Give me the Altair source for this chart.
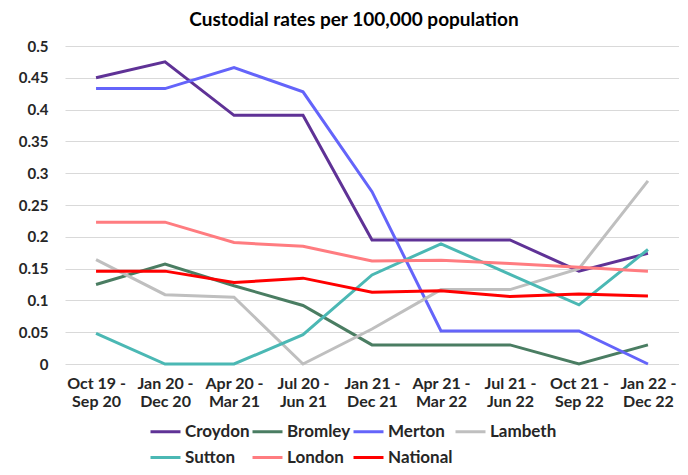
import altair as alt
import pandas as pd

periods = ["Oct 19 - Sep 20", "Jan 20 - Dec 20", "Apr 20 - Mar 21", "Jul 20 - Jun 21",
           "Jan 21 - Dec 21", "Apr 21 - Mar 22", "Jul 21 - Jun 22", "Oct 21 - Sep 22",
           "Jan 22 - Dec 22"]

croydon = [0.450, 0.475, 0.391, 0.391, 0.195, 0.195, 0.195, 0.146, 0.174]
bromley = [0.125, 0.157, 0.123, 0.092, 0.030, 0.030, 0.030, 0.000, 0.030]
merton = [0.433, 0.433, 0.466, 0.428, 0.271, 0.052, 0.052, 0.052, 0.000]
lambeth = [0.164, 0.109, 0.105, 0.000, 0.055, 0.117, 0.117, 0.150, 0.288]
sutton = [0.048, 0.000, 0.000, 0.046, 0.140, 0.189, 0.141, 0.093, 0.180]
london = [0.223, 0.223, 0.191, 0.185, 0.162, 0.163, 0.158, 0.152, 0.146]
national = [0.146, 0.146, 0.128, 0.135, 0.113, 0.115, 0.106, 0.110, 0.107]

series_names = ["Croydon", "Bromley", "Merton", "Lambeth", "Sutton", "London", "National"]
series_values = [croydon, bromley, merton, lambeth, sutton, london, national]
series_colors = ["#5F3296", "#4A7D62", "#6464FA", "#BFBFBF", "#4BB8B4", "#FF7C80", "#FF0000"]

rows = []
for name, vals in zip(series_names, series_values):
    for p, v in zip(periods, vals):
        rows.append({"period": p, "series": name, "value": v})
df = pd.DataFrame(rows)

FONT = "Lato"
TXT = "#262626"

chart = alt.Chart(df).mark_line(strokeWidth=3).encode(
    x=alt.X("period:N", sort=periods,
            scale=alt.Scale(type="point", padding=0.45),
            axis=alt.Axis(title=None, domain=False, ticks=False, labelAngle=0,
                          labelExpr="[split(datum.label, ' - ')[0] + ' -', split(datum.label, ' - ')[1]]",
                          labelLineHeight=18, labelPadding=11, labelFontSize=16,
                          labelFontWeight="bold", labelColor=TXT, labelFont=FONT)),
    y=alt.Y("value:Q", scale=alt.Scale(domain=[0, 0.5], nice=False),
            axis=alt.Axis(title=None, values=[i * 0.05 for i in range(11)], format="~g",
                          domain=False, ticks=False, labelPadding=17, labelFontSize=15,
                          labelFontWeight="bold", labelColor=TXT, labelFont=FONT,
                          grid=True, gridColor="#D9D9D9", gridWidth=1)),
    color=alt.Color("series:N", sort=series_names,
                    scale=alt.Scale(domain=series_names, range=series_colors),
                    legend=alt.Legend(title=None, orient="none", legendX=84, legendY=369,
                                      direction="horizontal",
                                      columns=4, symbolType="stroke", symbolSize=900,
                                      symbolStrokeWidth=3, labelFontSize=17,
                                      labelFontWeight="bold", labelColor=TXT, labelFont=FONT,
                                      labelOffset=3, columnPadding=-4, rowPadding=1,
                                      padding=0)),
    order=alt.value(0),
).properties(
    width=614, height=318,
    title=alt.Title("Custodial rates per 100,000 population", fontSize=19, font=FONT,
                    fontWeight="bold", color="#000000", anchor="middle", frame="group",
                    dx=-18, offset=9),
    padding={"left": 10, "top": 3, "right": 0, "bottom": 2},
).configure_view(stroke=None)

chart.save("out.html", embed_options={"renderer": "svg", "actions": False})
